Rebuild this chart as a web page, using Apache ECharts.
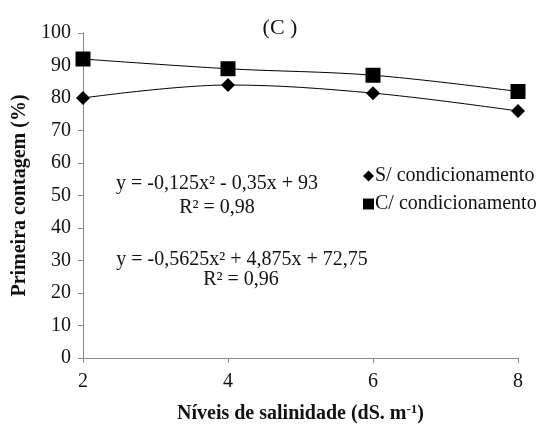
<!DOCTYPE html>
<html>
<head>
<meta charset="utf-8">
<script src="https://cdn.jsdelivr.net/npm/echarts@6/dist/echarts.min.js"></script>
<style>html,body{margin:0;padding:0;background:#fff;}#c{width:552px;height:426px;}</style>
</head>
<body>
<div id="c"></div>
<script>
var xLevels = [2, 4, 6, 8];
var semCond = [80, 84, 81.5, 76];
var comCond = [92, 89, 87, 82];
var seriesNames = ['S/ condicionamento', 'C/ condicionamento'];
var yTicks = [0, 10, 20, 30, 40, 50, 60, 70, 80, 90, 100];

var FONT = '"Liberation Serif", "Times New Roman", serif';
function pairs(xs, ys){ return xs.map(function(x,i){ return [x, ys[i]]; }); }

var chart = echarts.init(document.getElementById('c'), null, {renderer:'canvas'});
chart.setOption({
  animation: false,
  backgroundColor: '#fff',
  grid: {left: 83, right: 34, top: 33, bottom: 68, containLabel: false, outerBoundsMode: 'none'},
  xAxis: {
    type: 'value', min: 2, max: 8, interval: 2,
    axisLine: {show: true, lineStyle: {color: '#888', width: 1}},
    axisTick: {show: true, length: 5, lineStyle: {color: '#888'}},
    splitLine: {show: false},
    axisLabel: {color: '#111', fontFamily: FONT, fontSize: 20, margin: 14},
    name: 'Níveis de salinidade (dS. m{sup|-1})',
    nameLocation: 'middle', nameGap: 45,
    nameTextStyle: {color: '#111', fontFamily: FONT, fontSize: 20, fontWeight: 'bold',
      rich: {sup: {fontFamily: FONT, fontSize: 13, fontWeight: 'bold', verticalAlign: 'top', padding: [0,0,9,0], color:'#111'}}}
  },
  yAxis: {
    type: 'value', min: 0, max: 100, interval: 10,
    axisLine: {show: true, lineStyle: {color: '#888', width: 1}},
    axisTick: {show: true, length: 5, lineStyle: {color: '#888'}},
    splitLine: {show: false},
    axisLabel: {color: '#111', fontFamily: FONT, fontSize: 20, margin: 12},
    name: 'Primeira contagem (%)',
    nameLocation: 'middle', nameGap: 50, nameRotate: 90,
    nameTextStyle: {color: '#111', fontFamily: FONT, fontSize: 20, fontWeight: 'bold'}
  },
  legend: {
    orient: 'vertical', left: 358, top: 161, itemGap: 8,
    itemWidth: 11, itemHeight: 11, itemStyle: {color: '#000'},
    textStyle: {color: '#111', fontFamily: FONT, fontSize: 20, padding: [0,0,0,-4]},
    data: [{name: seriesNames[0], icon: 'diamond'}, {name: seriesNames[1], icon: 'rect'}]
  },
  title: {
    text: '(C )', left: 275, top: 12, textAlign: 'center',
    textStyle: {color: '#111', fontFamily: FONT, fontSize: 22, fontWeight: 'normal'}
  },
  graphic: [
    {type: 'text', x: 217, y: 184, style: {text: 'y = -0,125x² - 0,35x + 93', align: 'center', verticalAlign: 'middle', font: '20px ' + FONT, fill: '#111'}},
    {type: 'text', x: 217, y: 208, style: {text: 'R² = 0,98', align: 'center', verticalAlign: 'middle', font: '20px ' + FONT, fill: '#111'}},
    {type: 'text', x: 242, y: 260, style: {text: 'y = -0,5625x² + 4,875x + 72,75', align: 'center', verticalAlign: 'middle', font: '20px ' + FONT, fill: '#111'}},
    {type: 'text', x: 241, y: 280, style: {text: 'R² = 0,96', align: 'center', verticalAlign: 'middle', font: '20px ' + FONT, fill: '#111'}}
  ],
  series: [
    {name: seriesNames[0], type: 'line', data: pairs(xLevels, semCond), smooth: 0.35,
      symbol: 'diamond', symbolSize: 14, itemStyle: {color: '#000'},
      lineStyle: {color: '#000', width: 1}},
    {name: seriesNames[1], type: 'line', data: pairs(xLevels, comCond), smooth: 0.35,
      symbol: 'rect', symbolSize: 15, itemStyle: {color: '#000'},
      lineStyle: {color: '#000', width: 1}}
  ]
});
</script>
</body>
</html>
